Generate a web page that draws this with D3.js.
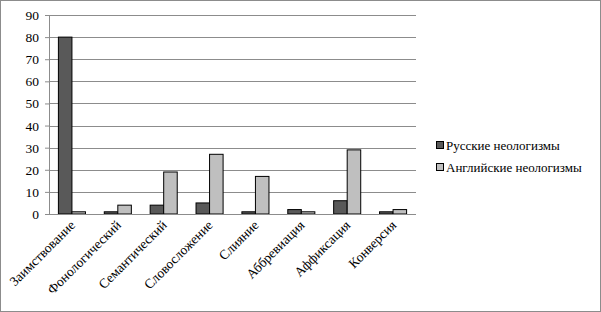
<!DOCTYPE html>
<html>
<head>
<meta charset="utf-8">
<script src="https://cdn.jsdelivr.net/npm/d3@7"></script>
</head>
<body style="margin:0">
<svg id="chart" width="601" height="312"></svg>
<script>
const categories = ['Заимствование', 'Фонологический', 'Семантический', 'Словосложение',
  'Слияние', 'Аббревиация', 'Аффиксация', 'Конверсия'];
const seriesNames = ['Русские неологизмы', 'Английские неологизмы'];
const russian = [80, 1, 4, 5, 1, 2, 6, 1];
const english = [1, 4, 19, 27, 17, 1, 29, 2];
const yTicks = [0, 10, 20, 30, 40, 50, 60, 70, 80, 90];

const colors = ['#595959', '#bfbfbf'];
const serifFont = 'Liberation Serif';
const width = 601, height = 312;
const margin = { top: 15, right: 185, bottom: 98, left: 49 };
const plotW = width - margin.left - margin.right;
const plotH = height - margin.top - margin.bottom;

const svg = d3.select('#chart');

// outer frame
svg.append('rect')
  .attr('x', 0.5).attr('y', 0.5)
  .attr('width', width - 1).attr('height', height - 1)
  .attr('fill', '#fff').attr('stroke', '#8c8c8c');

const grp = svg.append('g')
  .attr('transform', 'translate(' + margin.left + ',' + margin.top + ')');

const xScale = d3.scaleBand().domain(categories).range([0, plotW]);
const yScale = d3.scaleLinear().domain([0, 90]).range([plotH, 0]);
const barW = xScale.bandwidth() * 0.59 / 2;

// gridlines
grp.selectAll('.grid')
  .data(yTicks.filter(d => d > 0))
  .enter().append('line')
  .attr('x1', 0).attr('x2', plotW)
  .attr('y1', d => Math.round(yScale(d)) + 0.5)
  .attr('y2', d => Math.round(yScale(d)) + 0.5)
  .attr('stroke', '#8c8c8c');

// y axis (ticks only, labels below)
const yAxis = grp.append('g')
  .call(d3.axisLeft(yScale).tickValues(yTicks).tickSize(4).tickFormat(''));
yAxis.select('.domain').attr('stroke', '#8c8c8c');
yAxis.selectAll('line').attr('stroke', '#8c8c8c');
grp.selectAll('.ylabel')
  .data(yTicks).enter().append('text')
  .attr('x', -10)
  .attr('y', d => yScale(d) + 5)
  .attr('text-anchor', 'end')
  .attr('font-size', 13.5)
  .style('font-family', serifFont)
  .text(d => d);

// bars
const data = categories.map((c, i) => ({ cat: c, vals: [russian[i], english[i]] }));
const groups = grp.selectAll('.cat')
  .data(data).enter().append('g')
  .attr('transform', d => 'translate(' + (xScale(d.cat) + xScale.bandwidth() / 2 - barW) + ',0)');
groups.selectAll('rect')
  .data(d => d.vals)
  .enter().append('rect')
  .attr('x', (d, i) => i * barW)
  .attr('y', d => yScale(d))
  .attr('width', barW)
  .attr('height', d => plotH - yScale(d))
  .attr('fill', (d, i) => colors[i])
  .attr('stroke', '#000')
  .attr('stroke-width', 1);

// x axis baseline
grp.append('line')
  .attr('x1', 0).attr('x2', plotW)
  .attr('y1', plotH + 0.5).attr('y2', plotH + 0.5)
  .attr('stroke', '#8c8c8c');

// x labels rotated
grp.selectAll('.xlabel')
  .data(categories).enter().append('text')
  .attr('text-anchor', 'end')
  .attr('font-size', 13.5)
  .style('font-family', serifFont)
  .attr('transform', d => 'translate(' + (xScale(d) + xScale.bandwidth() / 2 + 4) + ',' + (plotH + 12) + ') rotate(-45)')
  .text(d => d);

// legend
const legend = svg.append('g').attr('transform', 'translate(436,141)');
seriesNames.forEach((s, i) => {
  const row = legend.append('g').attr('transform', 'translate(0,' + (i * 22) + ')');
  row.append('rect').attr('x', 0.5).attr('y', 0.5).attr('width', 7).attr('height', 7)
    .attr('fill', colors[i]).attr('stroke', '#000');
  row.append('text').attr('x', 10).attr('y', 8.5)
    .attr('font-size', 13)
    .style('font-family', serifFont)
    .text(s);
});
</script>
</body>
</html>
